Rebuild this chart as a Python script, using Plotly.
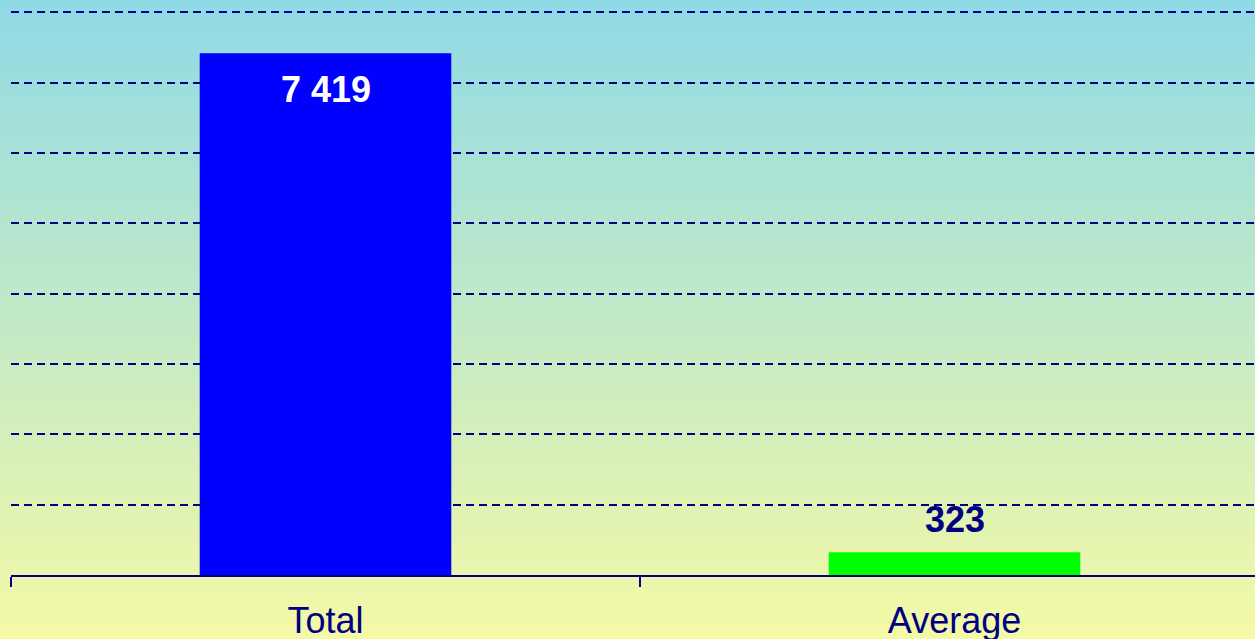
import plotly.graph_objects as go

categories = ["Total", "Average"]
values = [7419, 323]
bar_colors = ["#0000FF", "#00FF00"]
label_colors = ["#FFFFFF", "#000080"]

W, H = 1269, 639
M = dict(l=11, r=0, t=11, b=64)
plot_h = H - M["t"] - M["b"]

fig = go.Figure()
fig.add_trace(go.Bar(
    x=categories, y=values, marker=dict(color=bar_colors, line=dict(width=0)),
    hoverinfo="x+y",
))

def fmt(v):
    return f"{v:,}".replace(",", " ")

# value labels
annotations = []
for c, v, col in zip(categories, values, label_colors):
    inside = v > 2000
    annotations.append(dict(
        x=c, y=v, xref="x", yref="y", text=f"<b>{fmt(v)}</b>", showarrow=False,
        yanchor="top" if inside else "bottom", yshift=-14 if inside else 10,
        font=dict(family="Liberation Sans, Arial, sans-serif", size=36, color=col),
    ))

# vertical gradient background
top = (144, 218, 230)
bot = (244, 249, 166)
shapes = []
n = 128
for i in range(n):
    t = i / (n - 1)
    c = tuple(round(top[k] + (bot[k] - top[k]) * t) for k in range(3))
    y0p = H * i / n
    y1p = H * (i + 1) / n + 1
    shapes.append(dict(
        type="rect", xref="paper", yref="paper", layer="below",
        x0=-0.05, x1=1.05,
        y0=(H - M["b"] - y1p) / plot_h, y1=(H - M["b"] - y0p) / plot_h,
        fillcolor=f"rgb{c}", line=dict(width=0),
    ))

fig.update_layout(
    width=W, height=H, margin=M,
    paper_bgcolor="rgb(244,249,166)", plot_bgcolor="rgba(0,0,0,0)",
    bargap=0.6, showlegend=False,
    shapes=shapes, annotations=annotations,
    font=dict(family="Liberation Sans, Arial, sans-serif", color="#000080"),
    xaxis=dict(
        showline=True, linecolor="#000080", linewidth=2,
        ticks="outside", tickson="boundaries", ticklen=10, tickwidth=2, tickcolor="#000080",
        tickfont=dict(size=36, color="#000080"), showgrid=False,
        ticklabelstandoff=13, automargin=False,
    ),
    yaxis=dict(
        range=[0, 8020], dtick=1000, showticklabels=False, zeroline=False,
        showgrid=True, gridcolor="#000080", gridwidth=1.6, griddash="8px,5px",
        showline=False, ticks="", automargin=False,
    ),
)

fig.write_html(
    "out.html",
    config={"displayModeBar": False},
    post_script="document.body.style.margin='0';document.body.style.overflow='hidden';",
)
